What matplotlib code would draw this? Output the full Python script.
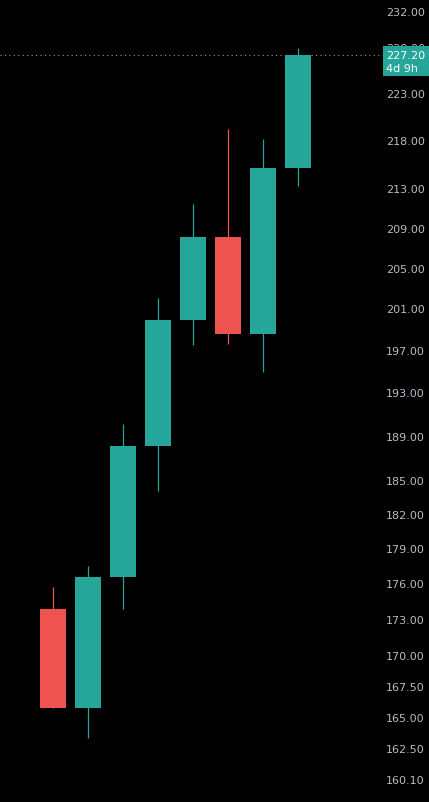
import matplotlib
matplotlib.use("Agg")
import matplotlib.pyplot as plt
from matplotlib.patches import Rectangle
from matplotlib.transforms import blended_transform_factory
import numpy as np

# OHLC values (log price scale)
opens = [173.8, 165.7, 176.5, 188.1, 199.9, 208.0, 198.5, 215.1]
highs = [175.7, 177.5, 190.1, 202.0, 211.4, 219.2, 218.1, 227.9]
lows = [165.7, 163.3, 173.8, 184.0, 197.5, 197.6, 194.9, 213.2]
closes = [165.7, 176.5, 188.1, 199.9, 208.0, 198.5, 215.1, 227.2]

tick_values = [232, 228, 223, 218, 213, 209, 205, 201, 197, 193, 189, 185,
               182, 179, 176, 173, 170, 167.5, 165, 162.5, 160.1]
last_price = 227.2
countdown = "4d 9h"

up_color = "#26a69a"
down_color = "#ef5350"
text_color = "#b8bcc4"

fig = plt.figure(figsize=(4.29, 8.03), dpi=100, facecolor="black")
ax = fig.add_axes([0, 0, 1, 1])
ax.set_facecolor("black")
ax.set_yscale("log")

x = np.arange(len(opens))
colors = [up_color if c >= o else down_color for o, c in zip(opens, closes)]
bottoms = np.minimum(opens, closes)
heights = np.abs(np.array(closes) - np.array(opens))

# wicks then bodies
ax.vlines(x, lows, highs, colors=colors, linewidth=0.9, zorder=2)
ax.bar(x, heights, bottom=bottoms, width=0.77, color=colors, zorder=3)

ax.set_xlim(-1.514, 10.743)
ax.set_ylim(158.35, 233.4)

# last price dotted line
ax.axhline(last_price, xmin=0, xmax=383 / 429, color="#9a9a9a",
           linestyle=(0, (1, 3)), linewidth=0.8, zorder=1)

# price axis labels inside the plot on the right
ax.yaxis.tick_right()
ax.set_yticks(tick_values)
ax.set_yticklabels([f"{v:.2f}" for v in tick_values])
ax.yaxis.set_minor_locator(matplotlib.ticker.NullLocator())
ax.tick_params(axis="y", length=0, pad=-31, labelsize=8, labelcolor=text_color)
ax.set_xticks([])
for s in ax.spines.values():
    s.set_visible(False)

# last price tag
fig.add_artist(Rectangle((383 / 429, 1 - 76.7 / 803), 46 / 429, 29.4 / 803,
                         transform=fig.transFigure, facecolor=up_color,
                         edgecolor="none", zorder=5))
trans = blended_transform_factory(fig.transFigure, ax.transData)
fig.text(386 / 429, last_price, f"{last_price:.2f}", transform=trans,
         color="white", fontsize=8, va="center", ha="left", zorder=6)
fig.text(386 / 429, 1 - 69 / 803, countdown, color="white", fontsize=8,
         va="center", ha="left", zorder=6)

fig.savefig("out.png", dpi=100, facecolor="black")
